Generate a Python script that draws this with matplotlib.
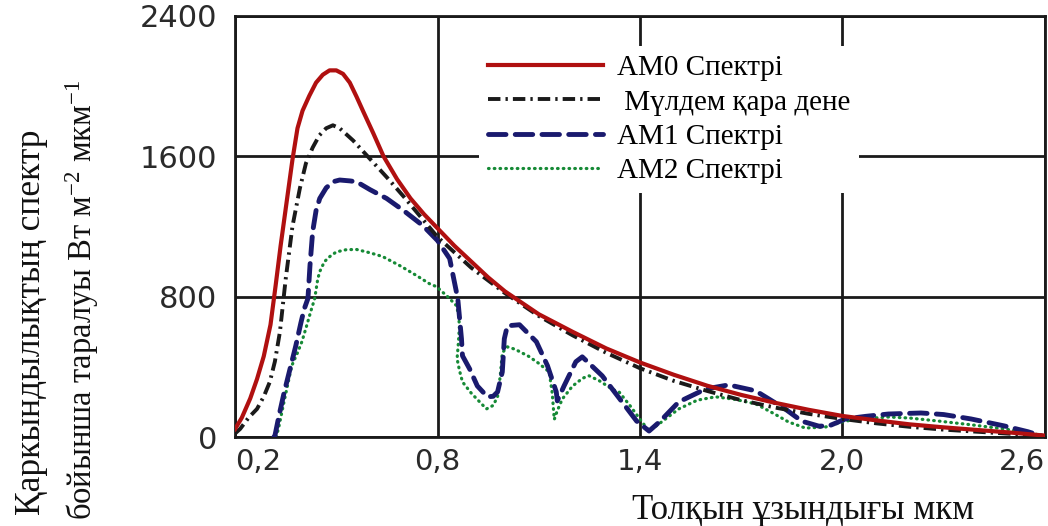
import numpy as np
import matplotlib
matplotlib.use("Agg")
import matplotlib.pyplot as plt

# AM0 spectrum
am0_x = [0.20, 0.22, 0.245, 0.265, 0.285, 0.305, 0.32, 0.335, 0.355, 0.37, 0.385, 0.40,
         0.42, 0.44, 0.46, 0.48, 0.50, 0.52, 0.54, 0.56, 0.58, 0.61, 0.64, 0.68, 0.72,
         0.76, 0.80, 0.85, 0.90, 0.95, 1.00, 1.10, 1.20, 1.30, 1.40, 1.50, 1.60, 1.70,
         1.80, 1.90, 2.00, 2.10, 2.20, 2.30, 2.40, 2.50, 2.60]
am0_y = [45, 110, 220, 330, 460, 640, 860, 1090, 1370, 1580, 1760, 1860,
         1945, 2020, 2065, 2090, 2090, 2070, 2020, 1940, 1855, 1730, 1600, 1470, 1360,
         1270, 1190, 1090, 1000, 910, 830, 700, 600, 505, 425, 355, 292, 240,
         195, 155, 120, 95, 72, 55, 40, 25, 8]

# black body
bb_x = [0.20, 0.215, 0.24, 0.265, 0.285, 0.303, 0.318, 0.333, 0.35, 0.37, 0.392, 0.41,
        0.43, 0.45, 0.47, 0.49, 0.51, 0.55, 0.59, 0.65, 0.70, 0.75, 0.80, 0.90, 1.00,
        1.10, 1.20, 1.30, 1.40, 1.50, 1.60, 1.70, 1.80, 1.90, 2.00, 2.10, 2.20, 2.30,
        2.40, 2.50, 2.60]
bb_y = [20, 46, 110, 160, 230, 314, 430, 600, 900, 1200, 1417, 1560,
        1650, 1720, 1760, 1777, 1760, 1690, 1606, 1480, 1370, 1255, 1140, 965, 820,
        690, 580, 480, 392, 320, 262, 210, 168, 132, 103, 78, 58, 42,
        30, 18, 6]

# AM1 spectrum
am1_x = [0.315, 0.318, 0.33, 0.345, 0.363, 0.38, 0.395, 0.405, 0.416, 0.422, 0.43, 0.44,
         0.451, 0.47, 0.49, 0.51, 0.54, 0.56, 0.60, 0.649, 0.70, 0.756, 0.80, 0.836,
         0.86, 0.871, 0.874, 0.895, 0.918, 0.948, 0.965, 0.978, 0.992, 0.998, 1.007,
         1.043, 1.093, 1.126, 1.152, 1.155, 1.175, 1.21, 1.229, 1.288, 1.347, 1.39,
         1.427, 1.46, 1.515, 1.595, 1.663, 1.743, 1.83, 1.88, 1.93, 1.96, 2.009, 2.07,
         2.136, 2.233, 2.30, 2.381, 2.48, 2.55, 2.60]
am1_y = [0, 6, 120, 250, 389, 520, 650, 730, 790, 977, 1171, 1290,
         1360, 1420, 1455, 1465, 1460, 1455, 1410, 1360, 1290, 1206, 1120, 1017,
         789, 560, 463, 389, 291, 229, 232, 257, 371, 560, 634,
         640, 543, 406, 257, 206, 291, 429, 457, 349, 200, 91,
         34, 90, 200, 274, 297, 263, 160, 90, 62, 63, 103, 118,
         131, 137, 128, 103, 63, 30, 0]

# AM2 spectrum
am2_x = [0.322, 0.33, 0.345, 0.368, 0.385, 0.398, 0.41, 0.425, 0.436, 0.445, 0.451, 0.465,
         0.481, 0.50, 0.53, 0.56, 0.60, 0.637, 0.69, 0.738, 0.776, 0.797, 0.83, 0.856,
         0.862, 0.865, 0.862, 0.858, 0.865, 0.874, 0.90, 0.925, 0.945, 0.965, 0.978,
         0.986, 0.992, 1.007, 1.03, 1.07, 1.10, 1.131, 1.14, 1.146, 1.155, 1.17, 1.20,
         1.23, 1.249, 1.28, 1.32, 1.338, 1.37, 1.406, 1.427, 1.46, 1.515, 1.57, 1.624,
         1.68, 1.743, 1.80, 1.84, 1.89, 1.95, 2.009, 2.07, 2.136, 2.20, 2.284, 2.38,
         2.48, 2.55, 2.60]
am2_y = [0, 60, 200, 406, 480, 543, 620, 720, 789, 900, 943, 1000,
         1029, 1055, 1068, 1069, 1050, 1029, 975, 920, 874, 857, 800, 749,
         700, 634, 540, 446, 380, 314, 250, 200, 160, 180, 230,
         350, 480, 514, 500, 460, 420, 371, 250, 100, 150, 217, 290,
         335, 349, 320, 270, 257, 180, 86, 34, 80, 160, 210, 229,
         215, 189, 130, 86, 51, 57, 91, 105, 114, 108, 91, 70,
         46, 25, 5]

x_ticks = [0.2, 0.8, 1.4, 2.0, 2.6]
x_tick_labels = ["0,2", "0,8", "1,4", "2,0", "2,6"]
y_ticks = [0, 800, 1600, 2400]
y_tick_labels = ["0", "800", "1600", "2400"]

plt.rcParams['mathtext.fontset'] = 'custom'
plt.rcParams['mathtext.rm'] = 'Liberation Serif'
plt.rcParams['mathtext.it'] = 'Liberation Serif'

fig = plt.figure(figsize=(10.48, 5.26), dpi=100)
ax = fig.add_axes([0.2243, 0.1692, 0.7727, 0.8004])

ax.plot(am0_x, am0_y, color='#b01010', lw=3.0, label='AM0 Спектрі', zorder=5)
ax.plot(bb_x, bb_y, color='#1a1a1a', lw=2.8, dashes=(3.2, 1.3, 0.6, 1.3),
        label=' Мүлдем қара дене', zorder=4)
ax.plot(am1_x, am1_y, color='#1a1a6e', lw=3.5, dashes=(3.6, 1.9),
        dash_capstyle='round', label='АМ1 Спектрі', zorder=3)
ax.plot(am2_x, am2_y, color='#168a36', lw=2.3, dashes=(0.2, 1.6),
        dash_capstyle='round', label='АМ2 Спектрі', zorder=2)

ax.set_xlim(0.2, 2.6)
ax.set_ylim(0, 2400)

ax.set_xticks(x_ticks)
ax.set_xticklabels(x_tick_labels)
ax.set_yticks(y_ticks)
ax.set_yticklabels(y_tick_labels)
ax.tick_params(axis='both', length=0, colors='#2a2a2a')
ax.tick_params(axis='x', labelsize=21, pad=8)
ax.tick_params(axis='y', labelsize=22, pad=13)
xl = ax.get_xticklabels()
xl[0].set_ha('left')
xl[-1].set_ha('right')

ax.grid(True, color='#1a1a1a', lw=2.0)
ax.set_axisbelow(True)
for s in ax.spines.values():
    s.set_linewidth(2.0)
    s.set_color('#1a1a1a')

leg = ax.legend(loc='upper left', bbox_to_anchor=(0.283, 0.963), frameon=True,
                fancybox=False, framealpha=1, edgecolor='none', facecolor='white',
                handlelength=3.95, handletextpad=0.5, labelspacing=0.27,
                borderpad=0.3, prop={'family': 'Liberation Serif', 'size': 21})
leg.set_zorder(10)

fig.text(0.03, 0.388, 'Қаркындылықтың спектр', rotation=90, ha='center', va='center',
         family='Liberation Serif', fontsize=25.5, color='#111111')
fig.text(0.078, 0.43, r'бойынша таралуы Вт м$^{-2}$ мкм$^{-1}$', rotation=90,
         ha='center', va='center', family='Liberation Serif', fontsize=23.5, color='#111111')
fig.text(0.766, 0.03, 'Толқын ұзындығы мкм', ha='center', va='center',
         family='Liberation Serif', fontsize=25, color='#111111')

fig.savefig('out.png', dpi=100)
